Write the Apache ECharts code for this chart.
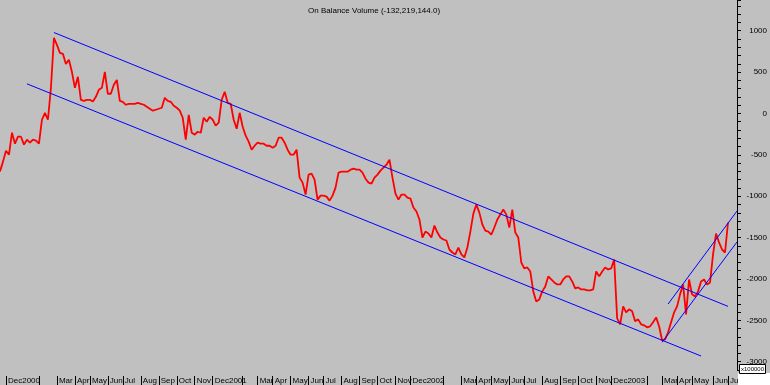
<!DOCTYPE html>
<html>
<head>
<meta charset="utf-8">
<script src="https://cdn.jsdelivr.net/npm/echarts@6/dist/echarts.min.js"></script>
<style>
html,body{margin:0;padding:0;background:#c0c0c0;}
#chart{width:770px;height:385px;}
</style>
</head>
<body>
<div id="chart"></div>
<script>
// OBV values (x100000), one sample per ~1.5 trading days, Nov 2000 - Jul 2003
const obv = [
-700,-582,-450,-498,-233,-365,-281,-281,-377,-317,-353,-317,-329,-365,-76,8,-76,310,913,829,
732,720,599,648,503,310,443,165,153,165,165,145,201,286,310,503,238,238,346,406,
153,141,105,117,117,117,129,117,105,81,57,33,45,57,69,189,153,141,93,69,
33,-52,-317,-16,-233,-257,-221,-233,-52,-100,-40,-76,-148,-112,165,262,129,117,-76,-185,
8,-160,-269,-341,-438,-390,-353,-365,-365,-390,-390,-414,-390,-293,-293,-353,-438,-498,-498,-438,
-775,-836,-980,-739,-727,-800,-1041,-993,-993,-1005,-1053,-993,-896,-715,-703,-703,-703,-679,-667,-679,
-679,-715,-788,-836,-848,-775,-739,-691,-655,-619,-558,-775,-968,-1041,-980,-980,-1017,-1029,-1137,-1185,
-1282,-1499,-1427,-1451,-1499,-1354,-1439,-1499,-1523,-1535,-1644,-1680,-1704,-1620,-1704,-1740,-1620,-1427,-1210,-1101,
-1198,-1342,-1415,-1427,-1463,-1378,-1282,-1222,-1161,-1222,-1378,-1161,-1439,-1499,-1801,-1873,-1861,-1909,-2150,-2271,
-2247,-2150,-2090,-1969,-2006,-2042,-2066,-2066,-2006,-1969,-1969,-2030,-2114,-2102,-2126,-2126,-2138,-2138,-2126,-1909,
-1969,-1909,-1861,-1885,-1873,-1764,-2476,-2548,-2331,-2404,-2367,-2391,-2512,-2488,-2548,-2560,-2584,-2572,-2524,-2464,
-2572,-2741,-2729,-2645,-2524,-2404,-2331,-2186,-2066,-2428,-2006,-2186,-2211,-2150,-2030,-2006,-2066,-2042,-1704,-1451,
-1559,-1644,-1680,-1318
];
const sampleCount = 247;
// trend lines: [sampleIndex, value]
const upperChannel = [[18, 978], [243, -2331]];
const lowerChannel = [[9, 358], [234, -2931]];
const upperRise = [[223, -2303], [246, -1179]];
const lowerRise = [[221, -2765], [246, -1553]];
// month separators and labels: [sampleIndex, label]
const monthTicks = [
[2,'Dec2000'],[13,''],[19,'Mar'],[25,'Apr'],[30,'May'],[36,'Jun'],[41,'Jul'],[47,'Aug'],[53,'Sep'],[59,'Oct'],[65,'Nov'],
[71,'Dec2001'],[81,''],[86,'Mar'],[91,'Apr'],[97,'May'],[103,'Jun'],[108,'Jul'],[114,'Aug'],[120,'Sep'],[126,'Oct'],[132,'Nov'],
[137,'Dec2002'],[148,''],[154,'Mar'],[159,'Apr'],[164,'May'],[170,'Jun'],[175,'Jul'],[181,'Aug'],[187,'Sep'],[193,'Oct'],[199,'Nov'],
[204,'Dec2003'],[216,''],[221,'Mar'],[226,'Apr'],[231,'May'],[238,'Jun'],[243,'Jul']
];
const titleText = 'On Balance Volume (-132,219,144.0)';
const unitText = 'x100000';

const cats = [];
for (let i = 0; i < sampleCount; i++) cats.push(String(i));
const tickMap = new Map(monthTicks.map(t => [t[0], t[1]]));
const FONT = 'Liberation Sans, Arial, sans-serif';

const chart = echarts.init(document.getElementById('chart'), null, {renderer: 'canvas'});
const blue = {color: '#0000ff', width: 1};
chart.setOption({
  animation: false,
  backgroundColor: '#c0c0c0',
  title: {
    text: titleText, left: 303, top: 2,
    textStyle: {fontFamily: FONT, fontSize: 8, fontWeight: 'normal', color: '#000'}
  },
  grid: {left: 0, right: 32, top: 0, bottom: 14.25, containLabel: false},
  xAxis: {
    type: 'category', data: cats, boundaryGap: false, offset: 6, position: 'bottom',
    axisLine: {show: false, onZero: false},
    axisTick: {show: true, length: 9, interval: (i) => tickMap.has(i), lineStyle: {color: '#000', width: 1}},
    axisLabel: {
      show: true, interval: (i) => tickMap.has(i), formatter: (v, i) => tickMap.get(i) || '',
      align: 'left', padding: [0, 0, 0, 2], margin: 1,
      fontFamily: FONT, fontSize: 8, color: '#000'
    },
    splitLine: {show: false}
  },
  yAxis: {
    type: 'value', position: 'right', min: -3100, max: 1371, interval: 100,
    axisLine: {show: true, lineStyle: {color: '#000', width: 1}},
    axisTick: {show: true, length: 4, lineStyle: {color: '#000'}},
    axisLabel: {
      formatter: (v) => (Math.round(v) % 500 === 0 && Math.abs(v - Math.round(v)) < 1e-6) ? String(v) : '',
      align: 'right', margin: 30, fontFamily: FONT, fontSize: 8, color: '#000'
    },
    splitLine: {show: false}
  },
  series: [
    {type: 'line', data: obv, symbol: 'none', lineStyle: {color: '#ff0000', width: 1.8}, z: 3},
    {type: 'line', data: upperChannel, symbol: 'none', lineStyle: blue, z: 4},
    {type: 'line', data: lowerChannel, symbol: 'none', lineStyle: blue, z: 4},
    {type: 'line', data: upperRise, symbol: 'none', lineStyle: blue, z: 4},
    {type: 'line', data: lowerRise, symbol: 'none', lineStyle: blue, z: 4}
  ],
  graphic: [
    {type: 'rect', z: 100, shape: {x: 738, y: 373, width: 32, height: 12}, style: {fill: '#ffffff'}},
    {type: 'rect', z: 101, shape: {x: 739.5, y: 364.5, width: 26, height: 9}, style: {fill: '#ffffff', stroke: '#000', lineWidth: 1}},
    {type: 'text', z: 102, x: 752.5, y: 369, style: {text: unitText, fontFamily: FONT, fontSize: 6, fill: '#000', align: 'center', verticalAlign: 'middle'}}
  ]
});
</script>
</body>
</html>
